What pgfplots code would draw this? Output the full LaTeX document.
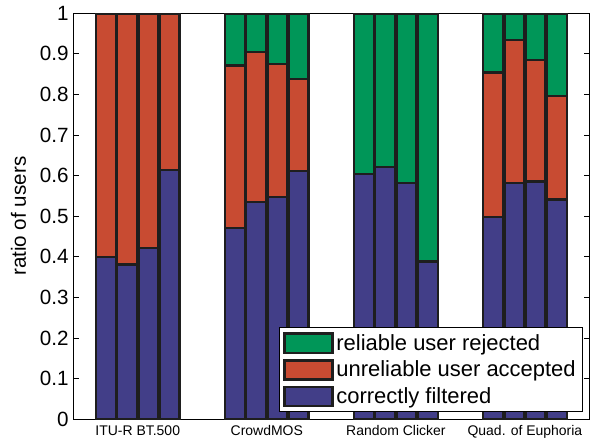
\documentclass[border=0pt]{standalone}
\usepackage{pgfplots}
\pgfplotsset{compat=1.18}
\usepackage{fontspec}
\setmainfont{Liberation Sans}
\definecolor{cblue}{RGB}{66,62,136}
\definecolor{cred}{RGB}{200,75,50}
\definecolor{cgreen}{RGB}{0,150,88}
\definecolor{edge}{RGB}{30,30,30}
\begin{document}
\begin{tikzpicture}
\begin{axis}[name=ax,
  width=388pt, height=305pt, scale only axis,
  xmin=0.5, xmax=4.5, ymin=0, ymax=1,
  ybar stacked, bar width=0.155, bar shift=0pt,
  xtick={1,2,3,4},
  xticklabels={ITU-R BT.500, CrowdMOS, Random Clicker, Quad. of Euphoria},
  ytick={0,0.1,0.2,0.3,0.4,0.5,0.6,0.7,0.8,0.9,1},
  yticklabels={0,0.1,0.2,0.3,0.4,0.5,0.6,0.7,0.8,0.9,1},
  x tick label style={font=\fontsize{10.5}{12}\selectfont, yshift=-1.5pt},
  y tick label style={font=\fontsize{15.5}{18}\selectfont},
  /pgf/number format/assume math mode=true,
  tick align=inside, major tick length=4pt,
  ytick pos=both, xtick pos=both,
  tick style={line width=0.6pt, black},
  axis line style={line width=0.75pt},
  ylabel={ratio of users},
  every axis y label/.style={at={(axis description cs:0,0.5)}, xshift=-41pt, rotate=90, anchor=center, font=\fontsize{15.5}{18}\selectfont},
  every axis plot/.append style={draw=edge, line width=1.9pt},
  reverse legend,
  legend image code/.code={\draw[#1, line width=1.9pt] (0pt,-7.2pt) rectangle (36pt,7.2pt);},
  legend style={at={(1,0)}, anchor=south east, xshift=-5pt, yshift=5pt,
    font=\fontsize{16.5}{19}\selectfont, draw=black, line width=0.75pt,
    row sep=2.5pt, inner sep=3pt, cells={anchor=west}},
]
\addplot[fill=cblue] coordinates {
 (0.7525,0.400) (0.9175,0.381) (1.0825,0.422) (1.2475,0.614)
 (1.7525,0.471) (1.9175,0.535) (2.0825,0.547) (2.2475,0.612)
 (2.7525,0.604) (2.9175,0.621) (3.0825,0.582) (3.2475,0.389)
 (3.7525,0.498) (3.9175,0.582) (4.0825,0.586) (4.2475,0.541)};
\addlegendentry{correctly filtered}
\addplot[fill=cred] coordinates {
 (0.7525,0.600) (0.9175,0.619) (1.0825,0.578) (1.2475,0.386)
 (1.7525,0.401) (1.9175,0.370) (2.0825,0.328) (2.2475,0.226)
 (2.7525,0) (2.9175,0) (3.0825,0) (3.2475,0)
 (3.7525,0.356) (3.9175,0.352) (4.0825,0.299) (4.2475,0.255)};
\addlegendentry{unreliable user accepted}
\addplot[fill=cgreen] coordinates {
 (0.7525,0) (0.9175,0) (1.0825,0) (1.2475,0)
 (1.7525,0.128) (1.9175,0.095) (2.0825,0.125) (2.2475,0.162)
 (2.7525,0.396) (2.9175,0.379) (3.0825,0.418) (3.2475,0.611)
 (3.7525,0.146) (3.9175,0.066) (4.0825,0.115) (4.2475,0.204)};
\addlegendentry{reliable user rejected}
\end{axis}
\pgfresetboundingbox
\path ([shift={(-55pt,-16pt)}]ax.south west) rectangle ([shift={(0.4pt,10pt)}]ax.north east);
\end{tikzpicture}
\end{document}
